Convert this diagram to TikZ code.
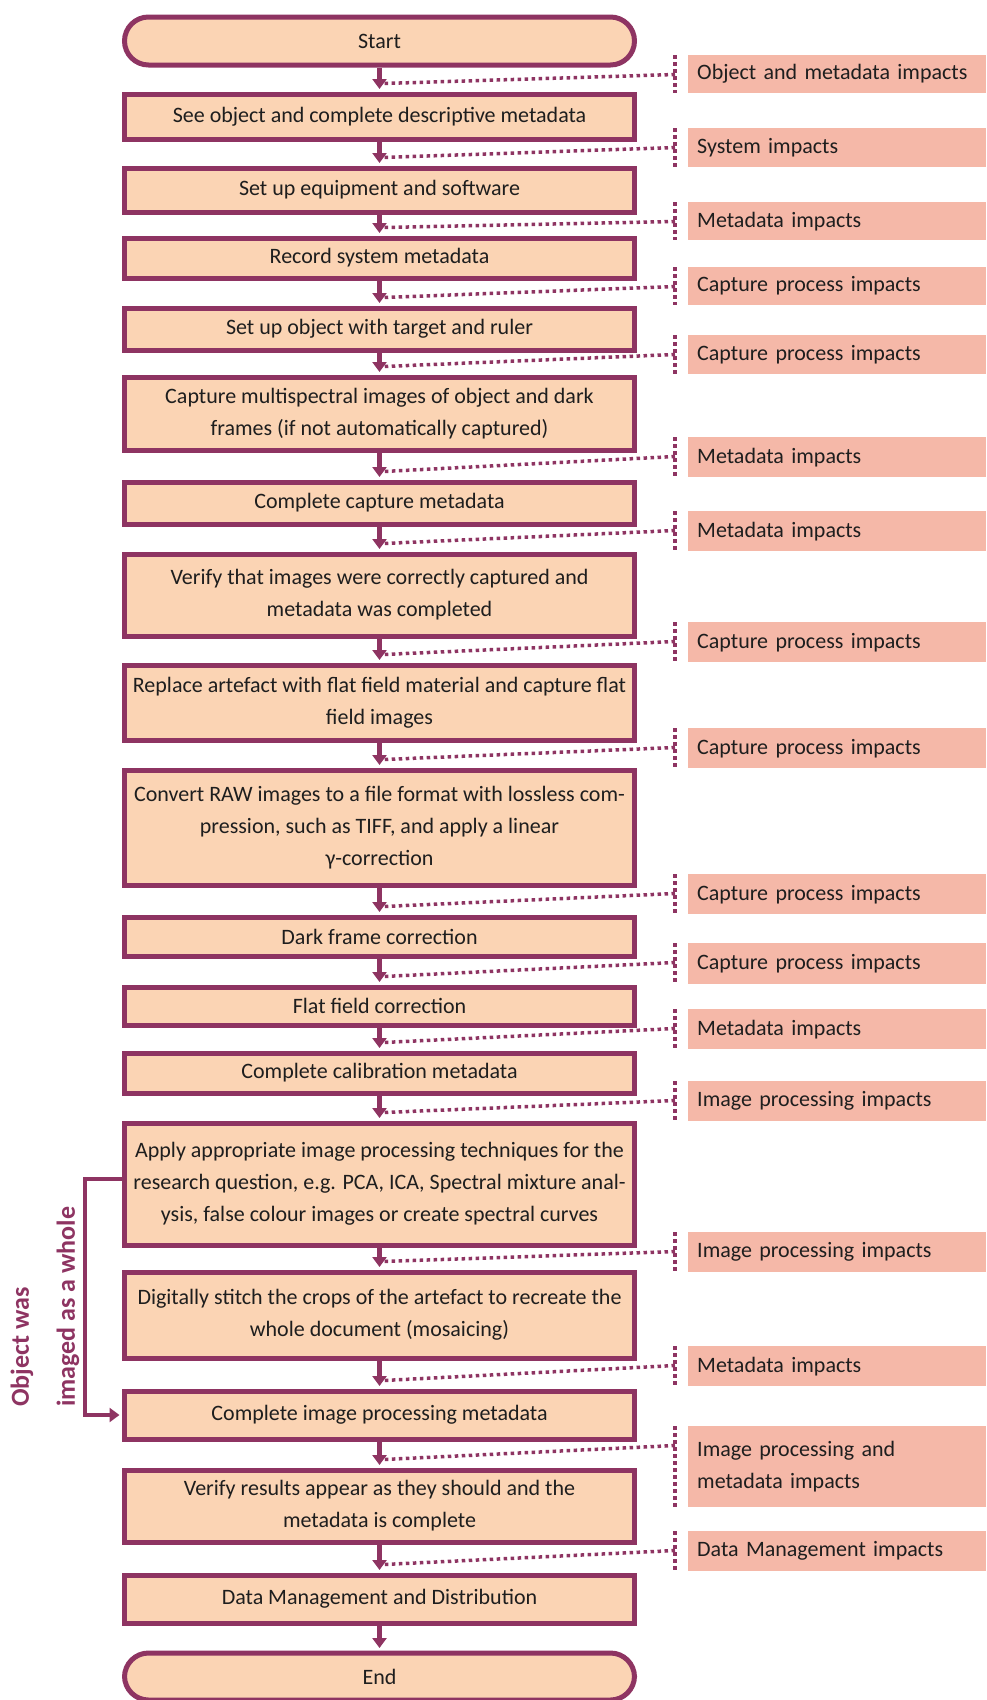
\documentclass[tikz,border=0pt]{standalone}
\usepackage{fontspec}
\setmainfont{Carlito}
\usepackage{tikz}
\usetikzlibrary{arrows.meta,calc}
\definecolor{flowpurple}{RGB}{142,52,98}
\definecolor{boxpeach}{RGB}{251,212,180}
\definecolor{impactpink}{RGB}{245,184,168}
\definecolor{textdark}{RGB}{30,30,30}
\tikzset{
  % work step box
  stepbox/.style={
    draw=flowpurple,
    line width=5pt,
    fill=boxpeach,
    minimum width=510pt,
    inner sep=0pt,
    align=center,
    text=textdark
  },
  % start / end
  termbox/.style={stepbox, rounded corners=24pt},
  % impact boxes on the right
  impact/.style={
    fill=impactpink,
    anchor=north west,
    text width=280pt,
    inner xsep=9pt,
    inner ysep=0pt,
    align=left,
    text=textdark
  },
  % arrows
  arr/.style={-{Triangle[length=10pt, width=14pt]}, line width=4.5pt, flowpurple, shorten >=2.5pt},
  dots/.style={flowpurple, line width=3.5pt, dash pattern=on 3.5pt off 3.5pt},
}

\begin{document}
\begin{tikzpicture}[x=1pt, y=-1pt, font=\fontsize{22}{32}\selectfont]
    \useasboundingbox (0,0) rectangle (986,1700);

    % Start and end
    \node[termbox, anchor=north, minimum height=48] (start) at (379.5,14.5) {Start};
    \node[termbox, anchor=north, minimum height=47] (finish) at (379.5,1650.5) {End};

    % Work steps
    \foreach \n/\yt/\yb/\txt in {
        1/89/139/{See object and complete descriptive metadata},
        2/163/212/{Set up equipment and software},
        3/233/278/{Record system metadata},
        4/303/350/{Set up object with target and ruler},
        5/372/450/{Capture multispectral images of object and dark\\frames (if not automatically captured)},
        6/477/524/{Complete capture metadata},
        7/549/636/{Verify that images were correctly captured and\\metadata was completed},
        8/660/740/{Replace artefact with flat field material and capture flat\\field images},
        9/765/885/{Convert RAW images to a file format with lossless com-\\pression, such as TIFF, and apply a linear\\γ-correction},
        10/912/956/{Dark frame correction},
        11/982/1025/{Flat field correction},
        12/1048/1093/{Complete calibration metadata},
        13/1118/1245/{Apply appropriate image processing techniques for the\\research question, e.g. PCA, ICA, Spectral mixture anal-\\ysis, false colour images or create spectral curves},
        14/1267/1358/{Digitally stitch the crops of the artefact to recreate the\\whole document (mosaicing)},
        15/1386/1439/{Complete image processing metadata},
        16/1465/1542/{Verify results appear as they should and the\\metadata is complete},
        17/1570/1623/{Data Management and Distribution}} {
        \node[stepbox, anchor=north, minimum height={\yb-\yt-5}] (b\n) at (379.5,\yt+2.5) {\txt};
    }

    % Flow arrows
    \foreach \a/\b in {start/b1, b1/b2, b2/b3, b3/b4, b4/b5, b5/b6, b6/b7, b7/b8, b8/b9,
        b9/b10, b10/b11, b11/b12, b12/b13, b13/b14, b14/b15, b15/b16, b16/b17, b17/finish} {
        \draw[arr] (\a.south) -- (\b.north);
    }

    % Impacts
    \foreach \n/\yt/\yb/\txt in {
        1/55/93/{Object and metadata impacts},
        2/128/167/{System impacts},
        3/202/240/{Metadata impacts},
        4/267/305/{Capture process impacts},
        5/335/374/{Capture process impacts},
        6/437/477/{Metadata impacts},
        7/511/551/{Metadata impacts},
        8/622/662/{Capture process impacts},
        9/728/768/{Capture process impacts},
        10/874/914/{Capture process impacts},
        11/943/984/{Capture process impacts},
        12/1009/1049/{Metadata impacts},
        13/1081/1121/{Image processing impacts},
        14/1232/1272/{Image processing impacts},
        15/1346/1386/{Metadata impacts},
        16/1426/1507/{Image processing and\\metadata impacts},
        17/1531/1571/{Data Management impacts}} {
        \node[impact, minimum height={\yb-\yt}] (i\n) at (688,\yt) {\txt};
        \draw[dots] ([xshift=-13pt]i\n.north west) -- ([xshift=-13pt]i\n.south west);
        \draw[dots] ([xshift=-13pt, yshift=-19.5pt]i\n.north west) -- ($(b\n.north)+(4,-8)$);
    }

    % Skip when imaged as a whole
    \draw[arr, line width=4pt] ([yshift=5pt]b13.west) -- ++(-37.5,0) |- (b15.west);
    \node[rotate=90, anchor=west, align=left, inner sep=0pt, text=flowpurple,
        font=\bfseries\fontsize{26}{46}\selectfont] (whole) at (45,1407) {Object was\\imaged as a whole};
\end{tikzpicture}
\end{document}
